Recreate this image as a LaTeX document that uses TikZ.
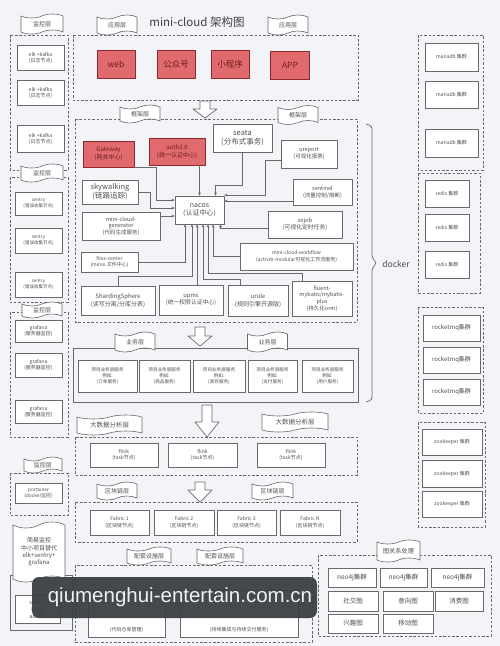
\documentclass[tikz,border=0pt]{standalone}
\usepackage{fontspec}
\setmainfont{Noto Sans CJK SC}
\newfontfamily\wmfont{Liberation Sans}
\usetikzlibrary{shapes.symbols,calc,arrows.meta}
\definecolor{bgc}{HTML}{F3F4F8}
\definecolor{boxc}{HTML}{6A6A6A}
\definecolor{txtc}{HTML}{505050}
\definecolor{redf}{HTML}{E06A6E}
\definecolor{redd}{HTML}{8E2A2E}
\definecolor{redt}{HTML}{6E1E22}
\definecolor{wmc}{HTML}{3A3E42}
\newcommand\fsz[2]{\fontsize{#1}{#2}\selectfont}
\newcommand\hollowdown[4]{%
  \draw[harrow] ({#1-5},#2) -- ({#1+5},#2) -- ({#1+5},#3) -- ({#1+12},#3) -- (#1,#4) -- ({#1-12},#3) -- ({#1-5},#3) -- cycle;}
\begin{document}
\begin{tikzpicture}[x=1pt,y=-1pt,
  box/.style={draw=boxc, line width=0.6pt, fill=white, inner sep=0.5pt, align=center, text=txtc, font=\fsz{5.5}{6.6}},
  redbox/.style={box, fill=redf, draw=redd, text=redt},
  dbox/.style={draw=boxc, line width=0.7pt, dash pattern=on 2.5pt off 1.8pt},
  banner/.style={tape, draw=boxc, fill=white, line width=0.6pt, inner sep=0.5pt, text=txtc, tape bend height=4pt, font=\fsz{6}{7}, align=center},
  conn/.style={draw=boxc, line width=0.55pt, -{Stealth[length=3.2pt,width=2.8pt]}},
  harrow/.style={draw=boxc, fill=white, line width=0.7pt, line join=round}
]
\fill[bgc] (0,0) rectangle (500,646);
\useasboundingbox (0,0) rectangle (500,646);

% ---------------- left column ----------------
\draw[dbox] (10,35) rectangle (68,170);
\draw[dbox] (10,177) rectangle (68,302);
\draw[dbox] (10,312) rectangle (68,437);
\draw[dbox] (10,473) rectangle (68,515);
\node[banner, minimum width=42, minimum height=20] (bm1) at (42,24) {监控层};
\node[banner, minimum width=42, minimum height=18] (bm2) at (42,173) {监控层};
\node[banner, minimum width=40, minimum height=16] (bm3) at (42,310) {监控层};
\node[banner, minimum width=38, minimum height=16] (bm4) at (43,465) {监控层};
\foreach \y/\h [count=\i] in {57.5/25, 92.5/25, 138.5/27}
  \node[box, minimum width=47, minimum height=\h, font=\fsz{5}{6}] (elk\i) at (40.5,\y) {elk +kafka\\(日志节点)};
\foreach \y/\h [count=\i] in {203.5/23, 240.5/25, 284.5/25}
  \node[box, minimum width=47, minimum height=\h, font=\fsz{4.5}{5.5}] (sen\i) at (38.5,\y) {sentry\\(错误收集节点)};
\foreach \y/\h [count=\i] in {331/22, 365/24, 411.5/23}
  \node[box, minimum width=47, minimum height=\h, font=\fsz{5}{6}] (gra\i) at (38.5,\y) {grafana\\(服务器监控)};
\node[box, minimum width=47, minimum height=20, font=\fsz{4.8}{5.8}] (port) at (38.5,493) {portainer\\(docker监控)};
\draw[boxc, line width=0.6pt] (10,575) rectangle (72,630);
\node[banner, minimum width=52, minimum height=60, tape bend height=6pt, font=\fsz{6}{7.2}] (easy) at (39,552) {简易监控\\中小项目替代\\elk+sentry+\\grafana};
\node[box, minimum width=45, minimum height=28, font=\fsz{5.5}{7}] (sba) at (37.5,609) {spring\\boot\\admin};

% ---------------- application layer ----------------
\node[text=black!75, font=\fsz{11.5}{13}] (title) at (197,22) {mini-cloud 架构图};
\draw[dbox] (73,35) rectangle (358,100);
\node[banner, minimum width=40, minimum height=20] (ba1) at (117,25) {应用层};
\node[banner, minimum width=40, minimum height=20] (ba2) at (288,25) {应用层};
\node[redbox, minimum width=38, minimum height=28, font=\fsz{8.5}{10}] (web) at (116,64) {web};
\node[redbox, minimum width=38, minimum height=28, font=\fsz{8.5}{10}] (gzh) at (176,64) {公众号};
\node[redbox, minimum width=38, minimum height=28, font=\fsz{8.5}{10}] (xcx) at (230,64) {小程序};
\node[redbox, minimum width=39, minimum height=28, font=\fsz{8.5}{10}] (app) at (290,65) {APP};
\hollowdown{205}{101}{109}{118}

% ---------------- framework layer ----------------
\draw[dbox] (75,119) rectangle (357,322);
\node[banner, minimum width=40, minimum height=18] (bf1) at (140,114) {框架层};
\node[banner, minimum width=40, minimum height=19] (bf2) at (298,115) {框架层};
\node[redbox, minimum width=51, minimum height=26, font=\fsz{6}{7.5}] (gw) at (108.5,154) {Gateway\\(网关中心)};
\node[redbox, minimum width=56, minimum height=27, font=\fsz{6}{7.5}] (auth) at (177,151.5) {auth2.0\\(统一认证中心)};
\node[box, minimum width=59, minimum height=28, font=\fsz{7.5}{9}] (seata) at (242.5,138) {seata\\(分布式事务)};
\node[box, minimum width=56, minimum height=28, font=\fsz{5.5}{7}] (ureport) at (309,154) {ureport\\(可视化报表)};
\node[box, minimum width=56, minimum height=24, font=\fsz{7.5}{9}] (sky) at (110,192) {skywalking\\(链路追踪)};
\node[box, minimum width=49, minimum height=28, font=\fsz{7}{8.5}] (nacos) at (199.5,210) {nacos\\(认证中心)};
\node[box, minimum width=59, minimum height=26, font=\fsz{5.5}{7}] (sentinel) at (322.5,192) {sentinel\\(流量控制/熔断)};
\node[box, minimum width=74, minimum height=27, font=\fsz{5.8}{7}] (xxjob) at (305,224.5) {xxjob\\(可视化定时任务)};
\node[box, minimum width=78, minimum height=28, font=\fsz{5.5}{6.6}] (gen) at (121,226) {mini-cloud-\\generator\\(代码生成服务)};
\node[box, minimum width=57, minimum height=20, font=\fsz{5}{6.2}] (files) at (109.5,262) {files-center\\(minio 文件中心)};
\node[box, minimum width=113, minimum height=27, font=\fsz{5}{6.4}] (wf) at (296.5,256.5) {mini-cloud-workflow\\(activiti-modular可视化工作流服务)};
\node[box, minimum width=74, minimum height=29, font=\fsz{6}{7.4}] (shard) at (118,300.5) {ShardingSphere\\(读写分离/分库分表)};
\node[box, minimum width=64, minimum height=30, font=\fsz{5.8}{7.2}] (upms) at (191,300) {upms\\(统一权限认证中心)};
\node[box, minimum width=60, minimum height=31, font=\fsz{6}{7.4}] (urule) at (258,300.5) {urule\\(规则引擎开源版)};
\node[box, minimum width=60, minimum height=35, font=\fsz{5.5}{6.6}] (fluent) at (322,298.5) {fluent-\\mybatis/mybatis-\\plus\\(持久化orm)};

\draw[conn] (gw.south east) -- ++(22,0) |- ($(nacos.west)+(0,-10)$);
\draw[conn] (sky.east) -- ++(12,0) |- ($(nacos.west)+(0,-2)$);
\draw[conn] ($(gen.east)+(0,-10)$) -- ($(nacos.west)+(0,6)$);
\draw[conn] (auth.south -| nacos.north) -- (nacos.north);
\draw[conn] (seata.south) -- ++(0,33) -| ($(nacos.north)+(16,0)$);
\draw[conn] ($(ureport.west)+(0,6)$) -- ++(-15,0) |- ($(nacos.east)+(0,-15)$);
\draw[conn] ($(sentinel.west)+(0,9)$) -- ($(nacos.east)+(0,-9)$);
\draw[conn] ($(xxjob.west)+(0,4)$) -| ($(nacos.south)+(21,0)$);
\draw[conn] (wf.west) -| ($(nacos.south)+(13.5,0)$);
\draw[conn] ($(fluent.north)+(-20,0)$) -- ++(0,-7) -| ($(nacos.south)+(8.5,0)$);
\draw[conn] ($(urule.north)+(-18,0)$) -- ++(0,-5) -| ($(nacos.south)+(3.5,0)$);
\draw[conn] ($(upms.north)+(6,0)$) -- ($(nacos.south)+(-2.5,0)$);
\draw[conn] (shard.north) -- ++(0,-9) -| ($(nacos.south)+(-7.5,0)$);
\draw[conn] (files.east) -| ($(nacos.south)+(-14.5,0)$);

% docker brace
\draw[boxc, line width=0.7pt, rounded corners=3pt] (366,124) -- (372,126) -- (372,258) -- (377,263) -- (372,268) -- (372,400) -- (366,402);
\node[text=txtc, font=\fsz{8.5}{10}] (docker) at (396,264) {docker};

% ---------------- business layer ----------------
\hollowdown{200}{327}{336}{346}
\draw[boxc, line width=0.7pt] (73,348) rectangle (358,402);
\node[banner, minimum width=40, minimum height=20] (bb1) at (135,342) {业务层};
\node[banner, minimum width=40, minimum height=20] (bb2) at (267.5,342) {业务层};
\foreach \x/\w/\s [count=\i] in {107.5/59/订单服务, 164.5/51/商品服务, 219/52/库存服务, 272.5/49/支付服务, 327.5/51/用户服务}
  \node[box, minimum width=\w, minimum height=32, font=\fsz{4.6}{5.8}] (biz\i) at (\x,376) {项目业务层服务\\例如:\\(\s)};

% ---------------- big data layer ----------------
\hollowdown{207}{405}{422}{437}
\draw[dbox] (75,437) rectangle (357,475);
\node[banner, minimum width=65, minimum height=20, font=\fsz{6.5}{7.5}] (bd1) at (109.5,425) {大数据分析层};
\node[banner, minimum width=66, minimum height=20, font=\fsz{6.5}{7.5}] (bd2) at (295,422) {大数据分析层};
\foreach \x/\w [count=\i] in {124/68, 202.5/69, 291/68}
  \node[box, minimum width=\w, minimum height=24, font=\fsz{5}{6.4}] (flink\i) at (\x,455) {flink\\(task节点)};

% ---------------- blockchain layer ----------------
\hollowdown{200}{482}{490}{502}
\draw[dbox] (75,502) rectangle (357,542);
\node[banner, minimum width=40, minimum height=18] (bc1) at (117,491) {区块链层};
\node[banner, minimum width=41, minimum height=18] (bc2) at (272.5,491) {区块链层};
\foreach \x/\w/\n [count=\i] in {119.5/59/1, 184/60/2, 246.5/59/3, 310/60/N}
  \node[box, minimum width=\w, minimum height=25, font=\fsz{5}{6.4}] (fab\i) at (\x,522.5) {Fabric \n\\(区块链节点)};

% ---------------- supporting facilities ----------------
\draw[dbox] (75,565) rectangle (312,642);
\node[banner, minimum width=44, minimum height=18] (bs1) at (149,556) {配套设施层};
\node[banner, minimum width=46, minimum height=18] (bs2) at (220,556) {配套设施层};
\node[box, minimum width=77, minimum height=47] (sup1) at (126.5,613.5) {};
\node[box, minimum width=118, minimum height=47] (sup2) at (239,613.5) {};
\node[text=txtc, font=\fsz{5}{6}, above=1.5pt] at (sup1.south) {(代码仓库管理)};
\node[text=txtc, font=\fsz{5}{6}, above=1.5pt] at (sup2.south) {(持续集成与持续交付服务)};

% ---------------- right column ----------------
\draw[dbox] (418,35) rectangle (483,170);
\foreach \y/\h [count=\i] in {57/28, 94.5/27, 143/28}
  \node[box, minimum width=53, minimum height=\h, font=\fsz{5}{6}] (mdb\i) at (451.5,\y) {mariadb 集群};
\draw[dbox] (418,173) rectangle (480,293);
\foreach \y [count=\i] in {193.5, 227.5, 264.5}
  \node[box, minimum width=44, minimum height=27, font=\fsz{5}{6}] (rds\i) at (447,\y) {redis 集群};
\draw[dbox] (418,307) rectangle (483,413);
\foreach \y [count=\i] in {328, 360, 392}
  \node[box, minimum width=57, minimum height=26, font=\fsz{6}{7}] (rmq\i) at (451.5,\y) {rocketmq集群};
\draw[dbox] (418,422) rectangle (485,527);
\foreach \y/\h [count=\i] in {442/26, 473.5/27, 504/26}
  \node[box, minimum width=60, minimum height=\h, font=\fsz{5}{6}] (zk\i) at (452,\y) {zookeeper 集群};
\draw[dbox] (318,555) rectangle (491,636);
\node[banner, minimum width=43, minimum height=22, font=\fsz{6.2}{7}] (bg) at (398.5,551) {图关系处理};
\node[box, minimum width=48, minimum height=19, font=\fsz{6.5}{7.5}] (neo1) at (352,577.5) {neo4j集群};
\node[box, minimum width=47, minimum height=19, font=\fsz{6.5}{7.5}] (neo2) at (403.5,577.5) {neo4j集群};
\node[box, minimum width=53, minimum height=19, font=\fsz{6.5}{7.5}] (neo3) at (457.5,577.5) {neo4j集群};
\node[box, minimum width=50, minimum height=20, font=\fsz{6.5}{7.5}] (g1) at (353,601) {社交图};
\node[box, minimum width=50, minimum height=20, font=\fsz{6.5}{7.5}] (g2) at (408,601) {意向图};
\node[box, minimum width=48, minimum height=20, font=\fsz{6.5}{7.5}] (g3) at (459,601) {消费图};
\node[box, minimum width=50, minimum height=19, font=\fsz{6.5}{7.5}] (g4) at (353,623.5) {兴趣图};
\node[box, minimum width=50, minimum height=19, font=\fsz{6.5}{7.5}] (g5) at (408,623.5) {移动图};

% ---------------- watermark ----------------
\node[fill=wmc, fill opacity=0.94, rounded corners=7pt, minimum width=285, minimum height=41, inner sep=0pt] (wm) at (174.5,597.5) {};
\node[text=white!94!black, font=\wmfont\fsz{20.5}{24}, inner sep=0pt] (wmt) at (180,597) {qiumenghui-entertain.com.cn};
\end{tikzpicture}
\end{document}
